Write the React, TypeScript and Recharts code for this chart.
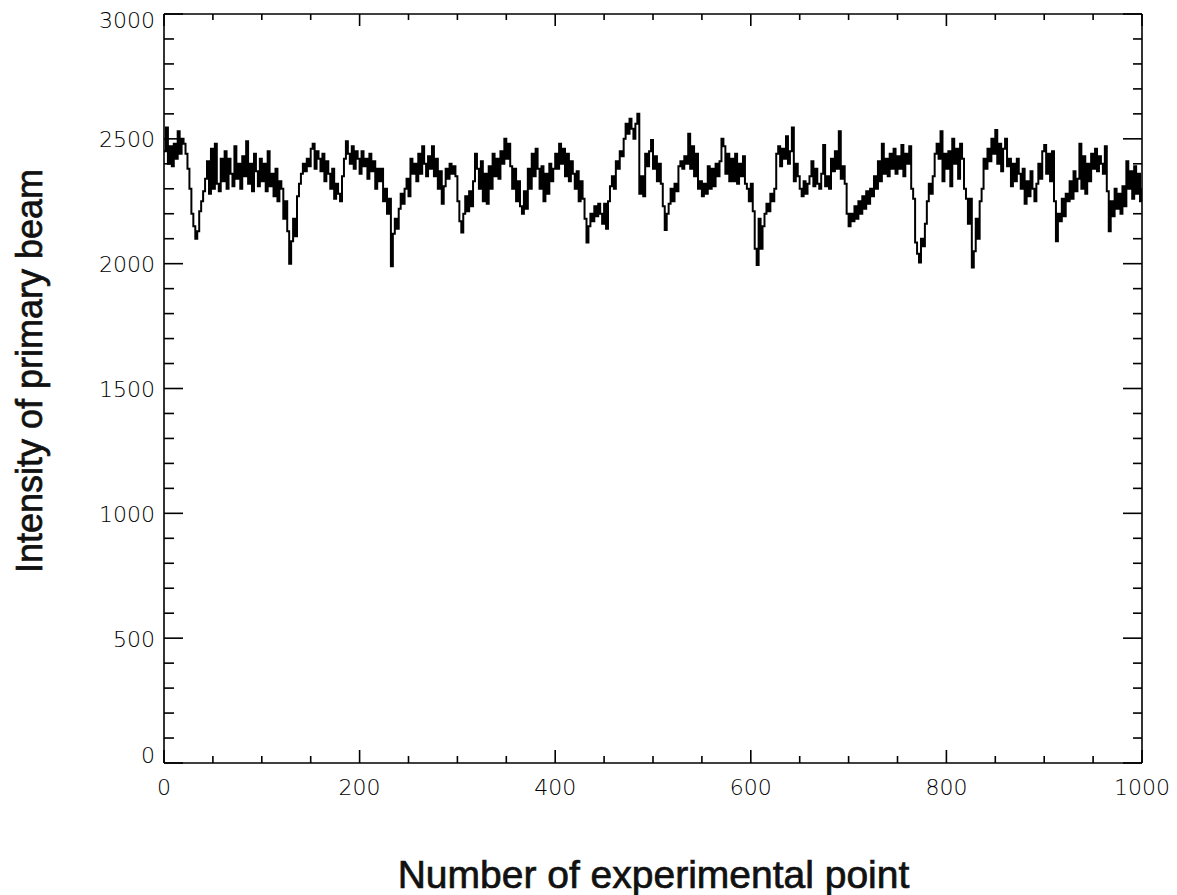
import React from 'react';
import { LineChart, Line, XAxis, YAxis, Customized } from 'recharts';

// Intensity of primary beam, every 2 experimental points (0..1000)
const SAMPLE_STEP = 2;
const intensity: number[] = [
  2450, 2545, 2400, 2470, 2390, 2480, 2420, 2530, 2440, 2500,
  2480, 2440, 2380, 2300, 2200, 2150, 2100, 2130, 2210, 2250,
  2290, 2340, 2410, 2280, 2460, 2300, 2480, 2320, 2290, 2420,
  2330, 2450, 2300, 2420, 2360, 2310, 2470, 2340, 2400, 2300,
  2430, 2350, 2490, 2320, 2400, 2290, 2440, 2370, 2310, 2420,
  2330, 2400, 2290, 2450, 2310, 2360, 2270, 2380, 2250, 2330,
  2300, 2180, 2250, 2130, 2000, 2090, 2180, 2110, 2270, 2320,
  2360, 2400, 2370, 2420, 2390, 2460, 2480, 2380, 2450, 2420,
  2370, 2440, 2330, 2410, 2360, 2300, 2380, 2260, 2320, 2280,
  2250, 2350, 2420, 2490, 2440, 2400, 2470, 2380, 2450, 2420,
  2360, 2450, 2390, 2420, 2340, 2440, 2370, 2410, 2300, 2380,
  2330, 2380, 2250, 2300, 2200, 2260, 1990, 2120, 2180, 2140,
  2220, 2280, 2240, 2300, 2340, 2270, 2420, 2360, 2400, 2330,
  2440, 2360, 2470, 2400, 2350, 2430, 2380, 2470, 2350, 2420,
  2300, 2370, 2240, 2310, 2380, 2340, 2400, 2360, 2390, 2350,
  2250, 2170, 2125, 2200, 2270, 2210, 2290, 2230, 2330, 2440,
  2380, 2300, 2410, 2250, 2360, 2240, 2390, 2300, 2440, 2350,
  2420, 2340, 2450, 2400, 2500, 2420, 2480, 2390, 2300, 2380,
  2250, 2330, 2230, 2200, 2290, 2220, 2380, 2300, 2440, 2350,
  2460, 2380, 2300, 2390, 2250, 2360, 2280, 2400, 2330, 2380,
  2440, 2380, 2480, 2400, 2460, 2350, 2440, 2330, 2410, 2360,
  2300, 2370, 2250, 2330, 2260, 2180, 2085, 2150, 2200, 2170,
  2230, 2190, 2240, 2200, 2160, 2240, 2140, 2250, 2310, 2350,
  2300, 2410, 2380, 2450, 2430, 2500, 2560, 2520, 2580, 2540,
  2500, 2560, 2600, 2280, 2350, 2270, 2440, 2390, 2450, 2495,
  2380, 2430, 2330, 2400, 2320, 2230, 2135, 2200, 2240, 2300,
  2250, 2320, 2290, 2390, 2410, 2380, 2430, 2400, 2520, 2380,
  2470, 2350, 2440, 2300, 2330, 2270, 2320, 2280, 2390, 2300,
  2380, 2310, 2400, 2350, 2410, 2500, 2470, 2360, 2440, 2330,
  2420, 2330, 2440, 2320, 2400, 2350, 2430, 2320, 2300, 2250,
  2320, 2210, 2060, 1995, 2180, 2060, 2150, 2200, 2240, 2210,
  2280, 2250, 2300, 2440, 2470, 2390, 2460, 2420, 2510, 2400,
  2450, 2545, 2330, 2400, 2350, 2300, 2270, 2330, 2280, 2320,
  2350, 2410, 2310, 2380, 2320, 2300, 2360, 2475, 2310, 2350,
  2300, 2420, 2370, 2450, 2380, 2530, 2340, 2390, 2320, 2200,
  2150, 2200, 2170, 2230, 2180, 2250, 2200, 2270, 2220, 2290,
  2240, 2300, 2270, 2350, 2300, 2410, 2330, 2480, 2360, 2420,
  2350, 2440, 2380, 2460, 2360, 2430, 2380, 2475, 2350, 2440,
  2400, 2470, 2300, 2260, 2085, 2040, 2005, 2100, 2070, 2160,
  2250, 2320, 2280, 2350, 2440, 2480, 2420, 2530, 2330, 2440,
  2380, 2450, 2310, 2500, 2400, 2460, 2340, 2480, 2420, 2300,
  2260, 2160, 2260, 1985, 2050, 2180, 2100, 2250, 2300, 2420,
  2380, 2460, 2410, 2500, 2440, 2535, 2400, 2480, 2370, 2460,
  2500, 2390, 2420, 2310, 2400, 2330, 2420, 2360, 2300, 2380,
  2240, 2330, 2270, 2370, 2300, 2250, 2320, 2400, 2340, 2450,
  2475, 2360, 2440, 2330, 2450, 2250, 2090, 2200, 2170, 2260,
  2190, 2280, 2250, 2330, 2260, 2370, 2290, 2340, 2480, 2300,
  2430, 2280, 2400, 2330, 2440, 2380, 2460, 2370, 2430, 2400,
  2360, 2470, 2290, 2130, 2250, 2190, 2300, 2220, 2280, 2200,
  2310, 2230, 2410, 2300, 2370, 2260, 2390, 2280, 2360, 2250,
  2300,
];

const xTicks = [0, 50, 100, 150, 200, 250, 300, 350, 400, 450, 500, 550, 600, 650, 700, 750, 800, 850, 900, 950, 1000];
const xLabels = [0, 200, 400, 600, 800, 1000];
const yTicks = [
  0, 100, 200, 300, 400, 500, 600, 700, 800, 900, 1000, 1100, 1200, 1300, 1400, 1500,
  1600, 1700, 1800, 1900, 2000, 2100, 2200, 2300, 2400, 2500, 2600, 2700, 2800, 2900, 3000,
];
const yLabels = [0, 500, 1000, 1500, 2000, 2500, 3000];

const xTitle = 'Number of experimental point';
const yTitle = 'Intensity of primary beam';

const data = intensity.map((v, i) => ({ point: i * SAMPLE_STEP, value: v }));

const TICK_FONT = { fontFamily: "'DejaVu Sans', sans-serif", fontSize: 22, fontWeight: 200, fill: '#000' };
const TITLE_FONT = { fontFamily: "'Liberation Sans', Arial, sans-serif", fill: '#111', stroke: '#111', strokeWidth: 0.7 };
const AX = { stroke: '#000', strokeWidth: 1.6 };

const BottomTick = (props: any) => {
  const { x, y, payload } = props;
  const v = payload.value;
  const major = xLabels.includes(v);
  return (
    <g>
      <line x1={x} x2={x} y1={y} y2={y - (major ? 13 : 7)} {...AX} />
      {major && (
        <text x={x} y={y + 32} textAnchor="middle" {...TICK_FONT}>{v}</text>
      )}
    </g>
  );
};

const TopTick = (props: any) => {
  const { x, y, payload } = props;
  const major = xLabels.includes(payload.value);
  return <line x1={x} x2={x} y1={y} y2={y + (major ? 12 : 6)} {...AX} />;
};

const LeftTick = (props: any) => {
  const { x, y, payload } = props;
  const v = payload.value;
  const major = yLabels.includes(v);
  const dy = v === 3000 ? 14 : v === 0 ? 0 : 8.5;
  return (
    <g>
      <line x1={x} x2={x + (major ? 19 : 10)} y1={y} y2={y} {...AX} />
      {major && (
        <text x={x - 9} y={y + dy} textAnchor="end" {...TICK_FONT}>{v}</text>
      )}
    </g>
  );
};

const RightTick = (props: any) => {
  const { x, y, payload } = props;
  const major = yLabels.includes(payload.value);
  return <line x1={x} x2={x - (major ? 19 : 9)} y1={y} y2={y} {...AX} />;
};

const Titles = () => (
  <g>
    <text x={645.5} y={880} textAnchor="middle" fontSize={39} {...TITLE_FONT}>{xTitle}</text>
    <text transform="translate(34,363) rotate(-90)" textAnchor="middle" fontSize={36} {...TITLE_FONT}>{yTitle}</text>
  </g>
);

export default function App() {
  return (
    <div style={{ width: 1161, height: 887 }}>
      <LineChart
        width={1161}
        height={887}
        data={data}
        margin={{ top: 5, right: 26, bottom: 72, left: 0 }}
      >
        <XAxis
          dataKey="point"
          type="number"
          domain={[0, 1000]}
          ticks={xTicks}
          interval={0}
          tickSize={0}
          tickMargin={0}
          tickLine={false}
          axisLine={AX}
          tick={BottomTick}
          height={60}
          allowDataOverflow
        />
        <XAxis
          xAxisId="top"
          orientation="top"
          dataKey="point"
          type="number"
          domain={[0, 1000]}
          ticks={xTicks}
          interval={0}
          tickSize={0}
          tickMargin={0}
          tickLine={false}
          axisLine={AX}
          tick={TopTick}
          height={1}
          allowDataOverflow
        />
        <YAxis
          type="number"
          domain={[0, 3000]}
          ticks={yTicks}
          interval={0}
          tickSize={0}
          tickMargin={0}
          tickLine={false}
          axisLine={AX}
          tick={LeftTick}
          width={156}
          allowDataOverflow
        />
        <YAxis
          yAxisId="right"
          orientation="right"
          type="number"
          domain={[0, 3000]}
          ticks={yTicks}
          interval={0}
          tickSize={0}
          tickMargin={0}
          tickLine={false}
          axisLine={AX}
          tick={RightTick}
          width={1}
          allowDataOverflow
        />
        <Line
          type="stepAfter"
          dataKey="value"
          stroke="#000"
          strokeWidth={2}
          dot={false}
          activeDot={false}
          isAnimationActive={false}
        />
        <Customized component={Titles} />
      </LineChart>
    </div>
  );
}
